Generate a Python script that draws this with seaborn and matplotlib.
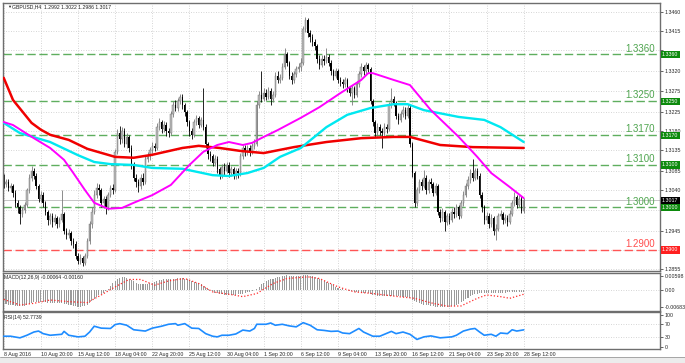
import numpy as np
import matplotlib.pyplot as plt
import seaborn as sns
from matplotlib.transforms import blended_transform_factory
from matplotlib.patches import Rectangle
from matplotlib.lines import Line2D

sns.set_style('white')
plt.rcParams['font.family'] = ['Liberation Sans', 'DejaVu Sans']

# GBPUSD H4 candles, 8 Aug 04:00 .. 28 Sep 12:00, prices in pips (x 1e-4)
first_open = 13070
closes = [
    13055, 13060, 13045, 13050, 13035, 13010, 13000, 12985, 12995, 13005,
    13040, 13070, 13085, 13075, 13050, 13020, 13030, 13010, 12990, 12970,
    12980, 12965, 12975, 12960, 12970, 12985, 12945, 12935, 12940, 12920,
    12915, 12885, 12875, 12880, 12870, 12885, 12920, 12960, 12990, 13030,
    13045, 13040, 13010, 13020, 13000, 13030, 13045, 13040, 13130, 13175,
    13160, 13180, 13150, 13165, 13140, 13100, 13070, 13060, 13050, 13070,
    13060, 13115, 13120, 13135, 13145, 13140, 13190, 13200, 13185, 13195,
    13180, 13175, 13220, 13240, 13235, 13250, 13260, 13240, 13225, 13200,
    13180, 13170, 13200, 13210, 13195, 13205, 13190, 13150, 13125, 13120,
    13105, 13115, 13090, 13075, 13095, 13085, 13100, 13080, 13090, 13075,
    13085, 13080, 13120, 13140, 13130, 13140, 13130, 13145, 13150, 13240,
    13265, 13255, 13270, 13260, 13275, 13255, 13265, 13310, 13300, 13305,
    13330, 13360, 13340, 13310, 13300, 13315, 13325, 13330, 13340, 13420,
    13440, 13410, 13400, 13390, 13380, 13350, 13335, 13350, 13345, 13355,
    13340, 13320, 13310, 13320, 13300, 13295, 13290, 13300, 13280, 13270,
    13280, 13265, 13290, 13315, 13330, 13320, 13335, 13325, 13250, 13200,
    13175, 13190, 13180, 13175, 13190, 13185, 13240, 13255, 13245, 13215,
    13205, 13220, 13230, 13215, 13235, 13150, 13080, 13010, 13040, 13060,
    13050, 13070, 13040, 13060, 13055, 13035, 13050, 12990, 12975, 12990,
    12965, 12980, 12970, 12990, 12985, 13000, 12980, 13010, 13030, 13050,
    13065, 13080, 13070, 13085, 13075, 13030, 13000, 12970, 12980, 12960,
    12975, 12945, 12950, 12980, 12985, 12970, 12975, 12965, 12985, 13010,
    13025, 13005, 13020, 12992, 13017]
highs = [
    13078, 13068, 13066, 13058, 13056, 13040, 13018, 13006, 13002, 13012,
    13046, 13078, 13098, 13092, 13080, 13055, 13038, 13036, 13015, 12995,
    12988, 12986, 12984, 12980, 12978, 13040, 12990, 12952, 12950, 12945,
    12928, 12920, 12892, 12890, 12886, 12892, 12928, 12968, 13000, 13040,
    13058, 13055, 13046, 13028, 13026, 13036, 13052, 13055, 13138, 13185,
    13192, 13190, 13186, 13175, 13170, 13146, 13108, 13078, 13068, 13078,
    13082, 13122, 13130, 13142, 13155, 13152, 13198, 13210, 13206, 13204,
    13200, 13188, 13228, 13250, 13252, 13258, 13268, 13266, 13246, 13230,
    13205, 13186, 13208, 13218, 13215, 13212, 13280, 13196, 13155, 13132,
    13126, 13124, 13120, 13096, 13102, 13104, 13108, 13106, 13098, 13096,
    13094, 13092, 13128, 13148, 13146, 13148, 13146, 13152, 13160, 13250,
    13275, 13322, 13280, 13278, 13284, 13280, 13274, 13318, 13320, 13314,
    13340, 13376, 13366, 13345, 13318, 13322, 13334, 13340, 13352, 13428,
    13448, 13445, 13418, 13408, 13396, 13385, 13358, 13358, 13358, 13376,
    13362, 13346, 13326, 13328, 13325, 13308, 13302, 13308, 13305, 13286,
    13288, 13286, 13298, 13322, 13340, 13336, 13342, 13340, 13330, 13256,
    13205, 13198, 13196, 13186, 13198, 13196, 13248, 13282, 13262, 13250,
    13222, 13228, 13238, 13236, 13244, 13240, 13155, 13086, 13048, 13068,
    13068, 13088, 13076, 13068, 13070, 13060, 13058, 13055, 12996, 12998,
    12995, 12988, 12986, 12998, 13000, 13008, 13006, 13018, 13038, 13058,
    13074, 13090, 13115, 13094, 13092, 13080, 13036, 13006, 12990, 12986,
    12984, 12980, 12960, 12988, 12994, 12990, 12984, 12982, 12994, 13018,
    13036, 13030, 13030, 13026, 13022]
lows = [
    13045, 13048, 13038, 13036, 13025, 13000, 12988, 12962, 12978, 12988,
    13000, 13035, 13062, 13066, 13044, 13012, 13012, 13002, 12982, 12958,
    12962, 12955, 12958, 12952, 12955, 12965, 12938, 12925, 12928, 12912,
    12905, 12878, 12866, 12868, 12862, 12864, 12880, 12914, 12952, 12985,
    13022, 13030, 13002, 12998, 12985, 12995, 13024, 13032, 13036, 13125,
    13150, 13152, 13142, 13140, 13130, 13090, 13062, 13048, 13036, 13044,
    13052, 13055, 13106, 13112, 13128, 13132, 13136, 13182, 13176, 13178,
    13168, 13165, 13170, 13212, 13226, 13228, 13244, 13232, 13215, 13192,
    13168, 13162, 13165, 13194, 13188, 13190, 13182, 13140, 13115, 13110,
    13098, 13098, 13082, 13066, 13070, 13076, 13080, 13072, 13074, 13066,
    13068, 13070, 13075, 13114, 13122, 13124, 13122, 13126, 13138, 13145,
    13235, 13248, 13250, 13252, 13255, 13240, 13248, 13260, 13292, 13294,
    13300, 13325, 13332, 13302, 13290, 13294, 13308, 13318, 13322, 13336,
    13412, 13402, 13390, 13380, 13370, 13340, 13325, 13330, 13336, 13340,
    13332, 13312, 13300, 13304, 13292, 13286, 13282, 13284, 13272, 13262,
    13242, 13258, 13260, 13284, 13308, 13312, 13314, 13318, 13244, 13192,
    13166, 13168, 13170, 13140, 13168, 13176, 13180, 13234, 13238, 13208,
    13196, 13200, 13214, 13208, 13210, 13142, 13072, 13000, 13004, 13034,
    13042, 13045, 13032, 13034, 13046, 13028, 13030, 12982, 12966, 12968,
    12945, 12958, 12962, 12965, 12976, 12978, 12972, 12975, 13004, 13024,
    13044, 13058, 13062, 13064, 13068, 13022, 12990, 12962, 12964, 12952,
    12955, 12935, 12923, 12944, 12972, 12962, 12964, 12956, 12960, 12980,
    13004, 12998, 13000, 12986, 12986]

# moving averages (bar index, price in pips)
ma_red_idx = [0, 4, 12, 16, 20, 28, 36, 48, 56, 64, 77, 84, 93, 102, 112, 125, 139, 154, 168, 175, 188, 202, 224]
ma_red_val = [13305, 13253, 13199, 13183, 13171, 13159, 13138, 13119, 13117, 13124, 13140, 13145,
              13140, 13133, 13128, 13142, 13154, 13163, 13166, 13166, 13147, 13142, 13140]
ma_cyan_idx = [0, 7, 20, 32, 39, 46, 56, 64, 77, 90, 97, 105, 112, 119, 128, 139, 148, 158, 168, 174,
               181, 196, 207, 214, 224]
ma_cyan_val = [13199, 13175, 13154, 13123, 13107, 13102, 13100, 13093, 13091, 13076, 13074, 13081, 13093,
               13119, 13140, 13189, 13218, 13234, 13243, 13243, 13229, 13213, 13206, 13189, 13154]
ma_mag_idx = [0, 4, 13, 20, 26, 30, 35, 39, 45, 51, 56, 64, 72, 80, 86, 92, 97, 103, 107, 112, 118, 128,
              136, 145, 154, 157, 159, 168, 175, 184, 196, 204, 210, 218, 224]
ma_mag_val = [13201, 13194, 13163, 13140, 13112, 13081, 13041, 13011, 12997, 12999, 13011, 13029, 13053,
              13100, 13131, 13147, 13154, 13147, 13152, 13166, 13182, 13211, 13236, 13269, 13300, 13316,
              13316, 13300, 13288, 13229, 13166, 13119, 13081, 13048, 13022]

# MACD histogram per bar and signal line, in 1e-5
macd_hist = [
    -560, -580, -600, -610, -620, -640, -660, -670, -660, -640, -600, -560, -520,
    -500, -490, -480, -480, -490, -500, -510,
    -520, -530, -540, -540, -530, -540, -560, -580,
    -600, -620, -640, -660, -680, -680, -670, -640, -590,
    -520, -440, -350, -270, -200, -150, -100, -40,
    50, 200, 300, 400, 480, 530, 560, 560,
    540, 500, 450, 380, 320, 280, 260, 250,
    260, 280, 300, 330, 370, 400,
    430, 450, 460, 460, 460, 470, 490, 500, 510, 520, 510, 490,
    460, 420, 380, 350, 330, 300,
    260, 200, 140, 80, 20, -40,
    -90, -120, -150, -170, -180, -190, -200, -200, -190, -180, -170, -150,
    -130, -110, -80, -50, -20, 10, 60,
    150, 250, 330, 390, 430, 470, 500,
    530, 560, 580, 600, 620, 630, 620, 610, 600, 600,
    610, 620, 640, 650, 640, 620, 590,
    560, 520, 480, 440, 400, 360,
    310, 260, 210, 160, 120, 80, 50, 20, 0,
    -10, -30, -50, -60, -70, -80, -90, -100, -110, -140, -180,
    -210, -230, -250, -250, -250, -240, -230, -220,
    -220, -230, -240, -250, -260, -270, -280, -320,
    -380, -440, -500, -540, -570, -590, -610, -630, -650,
    -660, -680, -700, -710, -710, -700, -690, -680, -660, -640, -610, -580,
    -500, -430, -370, -310, -250, -200, -160, -130, -110, -100,
    -100, -110, -120, -115, -110, -105, -100, -95, -90, -90,
    -85, -80, -80, -75, -70, -70, -65, -64]
signal_idx = [0, 7, 13, 20, 28, 36, 42, 48, 54, 59, 65, 71, 78, 84, 90, 99, 103, 109, 116, 122, 131, 136,
              144, 151, 159, 170, 177, 184, 191, 197, 204, 208, 214, 218, 224]
signal_val = [-375, -610, -540, -400, -470, -510, -190, 150, 460, 460, 220, 400, 500, 290, -60, -190, -260,
              -130, 290, 500, 570, 500, 150, -60, -130, -260, -330, -520, -660, -650, -330, -190, -260,
              -330, -160]

# RSI(14)
rsi_idx = [0, 3, 7, 10, 13, 15, 17, 20, 25, 26, 28, 32, 35, 37, 39, 42, 46, 48, 50, 53,
           56, 61, 64, 68, 71, 74, 75, 78, 81, 84, 87, 90, 92, 94, 97, 100, 103, 106, 108, 109,
           113, 115, 117, 120, 123, 126, 129, 132, 135, 138, 141, 144, 146, 149, 153, 155, 159, 162, 167, 169,
           172, 175, 178, 181, 184, 188, 193, 195, 198, 201, 203, 205, 207, 210, 212, 214, 217, 219, 221, 224]
rsi_val = [33, 33, 28, 36, 46, 49, 41, 36, 39, 48, 36, 31, 33, 46, 64, 58, 57, 69, 72, 67,
           53, 49, 58, 64, 70, 72, 67, 72, 58, 57, 41, 33, 31, 36, 36, 40, 52, 49, 57, 70,
           70, 74, 67, 70, 65, 62, 75, 67, 53, 51, 48, 49, 43, 41, 57, 46, 33, 33, 48, 41,
           46, 39, 23, 31, 34, 28, 31, 36, 49, 55, 57, 46, 36, 39, 33, 43, 41, 53, 49, 52.77]

levels_green = [1.3360, 1.3250, 1.3170, 1.3100, 1.3000]
level_red = 1.2900
last_price = 1.3017

price_ticks = [1.3460, 1.3415, 1.3370, 1.3320, 1.3275, 1.3225, 1.3180, 1.3135, 1.3085, 1.3040,
               1.2995, 1.2945, 1.2900, 1.2855]
hidden_ticks = [1.3370, 1.2995, 1.2900]
date_ticks = list(range(0, 225, 16))
date_labels = ['8 Aug 2016', '10 Aug 20:00', '15 Aug 12:00', '18 Aug 04:00', '22 Aug 20:00',
               '25 Aug 12:00', '30 Aug 04:00', '1 Sep 20:00', '6 Sep 12:00', '9 Sep 04:00',
               '13 Sep 20:00', '16 Sep 12:00', '21 Sep 04:00', '23 Sep 20:00', '28 Sep 12:00']

W, H = 685, 363
fig = plt.figure(figsize=(6.85, 3.63), dpi=100)


def box(l, t, r, b):
    return [l / W, 1 - b / H, (r - l) / W, (b - t) / H]


ax = fig.add_axes(box(3, 3, 660, 271))
axm = fig.add_axes(box(3, 272.5, 660, 311))
axr = fig.add_axes(box(3, 312, 660, 348.5))
grid_kw = dict(color='#c8c8c8', lw=0.6, ls=(0, (1, 2)), zorder=0.5)
small = 3.8

# candles
x = np.arange(len(closes))
c = np.array(closes) / 1e4
o = np.array([first_open] + closes[:-1]) / 1e4
hi = np.maximum(np.array(highs) / 1e4, np.maximum(o, c))
lo = np.minimum(np.array(lows) / 1e4, np.minimum(o, c))
up = c >= o
body_lo = np.minimum(o, c)
body_h = np.maximum(np.abs(c - o), 0.00006)
ax.vlines(x[up], lo[up], hi[up], color='#7a7a7a', lw=0.6, zorder=2)
ax.vlines(x[~up], lo[~up], hi[~up], color='black', lw=0.6, zorder=2)
ax.bar(x[up], body_h[up], bottom=body_lo[up], width=0.62, color='#bcbcbc',
       edgecolor='#6a6a6a', lw=0.3, zorder=2.1)
ax.bar(x[~up], body_h[~up], bottom=body_lo[~up], width=0.62, color='black', lw=0, zorder=2.1)

# moving averages
sns.lineplot(x=ma_red_idx, y=np.array(ma_red_val) / 1e4, color='#f00000', lw=1.8, ax=ax, zorder=3)
sns.lineplot(x=ma_cyan_idx, y=np.array(ma_cyan_val) / 1e4, color='#00e8f0', lw=1.7, ax=ax, zorder=3)
sns.lineplot(x=ma_mag_idx, y=np.array(ma_mag_val) / 1e4, color='#ff00ff', lw=1.4, ax=ax, zorder=3)

for p in price_ticks:
    ax.axhline(p, **grid_kw)
for a in (ax, axm, axr):
    for t in date_ticks:
        a.axvline(t, **grid_kw)

ax.axhline(last_price, color='#c4c4c4', lw=0.7, zorder=1.4)
trans = blended_transform_factory(ax.transAxes, ax.transData)
for lv in levels_green + [level_red]:
    col = '#ff5555' if lv == level_red else '#5fae5f'
    ax.axhline(lv, color=col, lw=1.0, ls=(0, (6, 2.6)), zorder=1.5)
    ax.annotate('%.4f' % lv, xy=(0.992, lv), xycoords=trans, xytext=(0, 0.6),
                textcoords='offset points', ha='right', va='bottom', fontsize=7,
                color='#ff4d4d' if lv == level_red else '#4fa54f')
    ax.text(1.003, lv, '%.4f' % lv, transform=trans, fontsize=small, color='white', ha='left',
            va='center', clip_on=False, zorder=6,
            bbox=dict(boxstyle='square,pad=0.22', fc='#ff2020' if lv == level_red else '#0c8a0c', ec='none'))
ax.text(1.003, last_price, '%.4f' % last_price, transform=trans, fontsize=small, color='white',
        ha='left', va='center', clip_on=False, zorder=6,
        bbox=dict(boxstyle='square,pad=0.22', fc='black', ec='none'))

ax.set_xlim(-0.3, 282.7)
ax.set_ylim(1.28505, 1.34811)
ax.set_yticks(price_ticks)
ax.set_yticklabels(['' if p in hidden_ticks else '%.4f' % p for p in price_ticks])
ax.yaxis.tick_right()
ax.tick_params(axis='y', labelsize=small, length=2, width=0.5, pad=1.5)
ax.set_xticks(date_ticks)
ax.tick_params(axis='x', labelbottom=False, length=0)
ax.text(0.006, 0.985, '\u25bc', transform=ax.transAxes, fontsize=3, va='center', ha='left')
ax.text(0.0137, 0.985, 'GBPUSD,H4  1.2992 1.3022 1.2986 1.3017', transform=ax.transAxes,
        fontsize=3.7, va='center', ha='left', color='#202020')

# MACD panel
sns.barplot(x=x, y=np.array(macd_hist) / 1e5, native_scale=True, orient='x', color='#9a9a9a',
            saturation=1, width=0.45, linewidth=0, errorbar=None, ax=axm)
sns.lineplot(x=signal_idx, y=np.array(signal_val) / 1e5, color='#ff2a2a', lw=0.9,
             linestyle=(0, (1, 1.6)), ax=axm, zorder=3)
axm.axhline(0, **grid_kw)
axm.set_xlim(-0.3, 282.7)
axm.set_ylim(-0.00862, 0.00752)
axm.set_yticks([0.00598, 0.0, -0.00683])
axm.set_yticklabels(['0.00598', '0.00', '-0.00683'])
axm.yaxis.tick_right()
axm.tick_params(axis='y', labelsize=small, length=2, width=0.5, pad=1.5)
axm.set_xticks(date_ticks)
axm.tick_params(axis='x', labelbottom=False, length=0)
axm.set_xlabel('')
axm.set_ylabel('')
axm.text(0.0015, 0.87, 'MACD(12,26,9) -0.00064 -0.00160', transform=axm.transAxes,
         fontsize=3.7, va='center', ha='left', color='#202020')

# RSI panel
sns.lineplot(x=rsi_idx, y=rsi_val, color='#1e8cff', lw=1.2, ax=axr, zorder=3)
axr.axhline(70, **grid_kw)
axr.axhline(30, **grid_kw)
axr.set_xlim(-0.3, 282.7)
axr.set_ylim(-5, 108)
axr.set_yticks([100, 70, 30, 0])
axr.set_yticklabels(['100', '70', '30', '0'])
axr.yaxis.tick_right()
axr.tick_params(axis='y', labelsize=small, length=2, width=0.5, pad=1.5)
axr.set_xticks(date_ticks)
axr.set_xticklabels(date_labels)
for lbl in axr.get_xticklabels():
    lbl.set_ha('left')
axr.tick_params(axis='x', labelsize=small, length=1.5, width=0.5, pad=1)
axr.text(0.0015, 0.86, 'RSI(14) 52.7739', transform=axr.transAxes,
         fontsize=3.7, va='center', ha='left', color='#202020')

for a in (ax, axm, axr):
    for s in a.spines.values():
        s.set_color('#6e6e6e')
        s.set_linewidth(1.0)

# bottom tab strip
fig.add_artist(Rectangle((0, 0), 1, 6 / H, transform=fig.transFigure, fc='#ececec', ec='none'))
fig.add_artist(Line2D([0, 1], [6 / H, 6 / H], transform=fig.transFigure, color='#9a9a9a', lw=0.6))

fig.savefig('out.png', dpi=100, facecolor='white')
